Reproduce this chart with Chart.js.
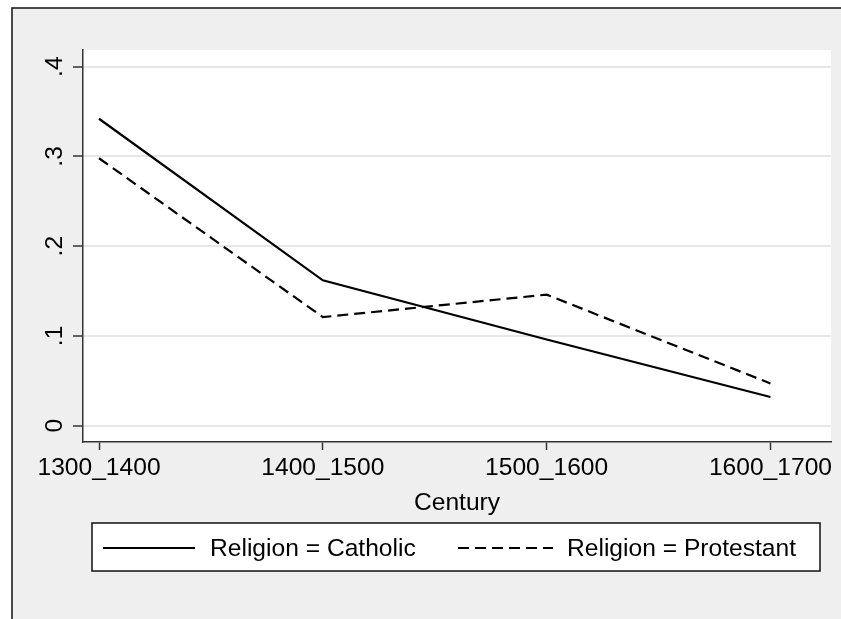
<!DOCTYPE html>
<html>
<head>
<meta charset="utf-8">
<script src="https://cdn.jsdelivr.net/npm/chart.js@4"></script>
<style>
  html, body { margin: 0; padding: 0; background: #ffffff; }
  #wrap { width: 841px; height: 619px; }
</style>
</head>
<body>
<div id="wrap"><canvas id="centuryChart" width="841" height="619"></canvas></div>
<script>
// dados
const centuries = ['1300_1400', '1400_1500', '1500_1600', '1600_1700'];
const catholic = [0.342, 0.162, 0.096, 0.032];
const protestant = [0.298, 0.121, 0.146, 0.047];
const yTickValues = [0, 0.1, 0.2, 0.3, 0.4];
const yTickLabels = ['0', '.1', '.2', '.3', '.4'];

const FONT = "'Liberation Sans', Arial, Helvetica, sans-serif";
const FONT_SIZE = 24.6;

// fundo cinza estilo Stata + area do grafico branca
const backgroundPlugin = {
    id: 'stataBackground',
    beforeDraw(chart) {
        const { ctx, chartArea } = chart;
        ctx.save();
        ctx.fillStyle = '#ffffff';
        ctx.fillRect(0, 0, chart.width, chart.height);
        ctx.fillStyle = '#efefef';
        ctx.fillRect(12, 8, chart.width - 12, chart.height - 8);
        ctx.strokeStyle = '#111111';
        ctx.lineWidth = 1.5;
        ctx.beginPath();
        ctx.moveTo(12, chart.height);
        ctx.lineTo(12, 8);
        ctx.lineTo(chart.width, 8);
        ctx.stroke();
        ctx.fillStyle = '#ffffff';
        ctx.fillRect(chartArea.left, chartArea.top, chartArea.right - chartArea.left, chartArea.bottom - chartArea.top);
        ctx.restore();
    }
};

// legenda com caixa, desenhada a mao
const legendBoxPlugin = {
    id: 'legendBox',
    afterDraw(chart) {
        const { ctx } = chart;
        const ds = chart.data.datasets;
        ctx.save();
        ctx.fillStyle = '#ffffff';
        ctx.fillRect(92, 523, 728, 48);
        ctx.strokeStyle = '#111111';
        ctx.lineWidth = 1.5;
        ctx.strokeRect(92, 523, 728, 48);

        const items = [
            { x1: 103, x2: 195, tx: 210 },
            { x1: 458, x2: 553, tx: 567 }
        ];
        ctx.font = FONT_SIZE + 'px ' + FONT;
        ctx.textBaseline = 'middle';
        ctx.textAlign = 'left';
        items.forEach((it, i) => {
            ctx.strokeStyle = '#000000';
            ctx.lineWidth = 2.2;
            ctx.setLineDash(ds[i].borderDash || []);
            ctx.beginPath();
            ctx.moveTo(it.x1, 548);
            ctx.lineTo(it.x2, 548);
            ctx.stroke();
            ctx.setLineDash([]);
            ctx.fillStyle = '#000000';
            ctx.fillText(ds[i].label, it.tx, 549);
        });
        ctx.restore();
    }
};

const ctx = document.getElementById('centuryChart').getContext('2d');
const chart = new Chart(ctx, {
    type: 'line',
    data: {
        datasets: [
            {
                label: 'Religion = Catholic',
                data: catholic.map((v, i) => ({ x: i, y: v })),
                borderColor: '#000000',
                borderWidth: 2.2,
                pointRadius: 0,
                tension: 0,
                fill: false
            },
            {
                label: 'Religion = Protestant',
                data: protestant.map((v, i) => ({ x: i, y: v })),
                borderColor: '#000000',
                borderWidth: 2.2,
                borderDash: [11, 6],
                pointRadius: 0,
                tension: 0,
                fill: false
            }
        ]
    },
    options: {
        responsive: false,
        animation: false,
        devicePixelRatio: 1,
        layout: {
            padding: { left: 0, right: 10, top: 50, bottom: 99 }
        },
        plugins: {
            legend: { display: false },
            tooltip: { enabled: false }
        },
        scales: {
            x: {
                type: 'linear',
                min: -0.0715,
                max: 3.2705,
                afterBuildTicks: scale => {
                    scale.ticks = centuries.map((c, i) => ({ value: i }));
                },
                afterFit: scale => {
                    scale.height = 78;
                    scale.paddingLeft = 0;
                    scale.paddingRight = 0;
                },
                ticks: {
                    autoSkip: false,
                    maxRotation: 0,
                    minRotation: 0,
                    padding: 3,
                    color: '#000000',
                    font: { family: FONT, size: FONT_SIZE },
                    callback: (v, i) => centuries[i]
                },
                grid: {
                    drawOnChartArea: false,
                    drawTicks: true,
                    tickLength: 8,
                    tickColor: '#333333',
                    tickWidth: 1.5
                },
                border: { color: '#333333', width: 1.5 },
                title: {
                    display: true,
                    text: 'Century',
                    color: '#000000',
                    font: { family: FONT, size: FONT_SIZE },
                    padding: { top: 0, bottom: 2 }
                }
            },
            y: {
                type: 'linear',
                min: -0.0182,
                max: 0.4186,
                afterBuildTicks: scale => {
                    scale.ticks = yTickValues.map(v => ({ value: v }));
                },
                afterFit: scale => {
                    scale.width = 83;
                    scale.paddingTop = 0;
                    scale.paddingBottom = 0;
                },
                ticks: {
                    minRotation: 90,
                    maxRotation: 90,
                    crossAlign: 'center',
                    padding: 8,
                    color: '#000000',
                    font: { family: FONT, size: FONT_SIZE },
                    callback: (v, i) => yTickLabels[i]
                },
                grid: {
                    color: '#e6e6e6',
                    lineWidth: 2,
                    drawTicks: true,
                    tickLength: 10,
                    tickColor: '#333333',
                    tickWidth: 1.5
                },
                border: { color: '#333333', width: 1.5 }
            }
        }
    },
    plugins: [backgroundPlugin, legendBoxPlugin]
});
</script>
</body>
</html>
